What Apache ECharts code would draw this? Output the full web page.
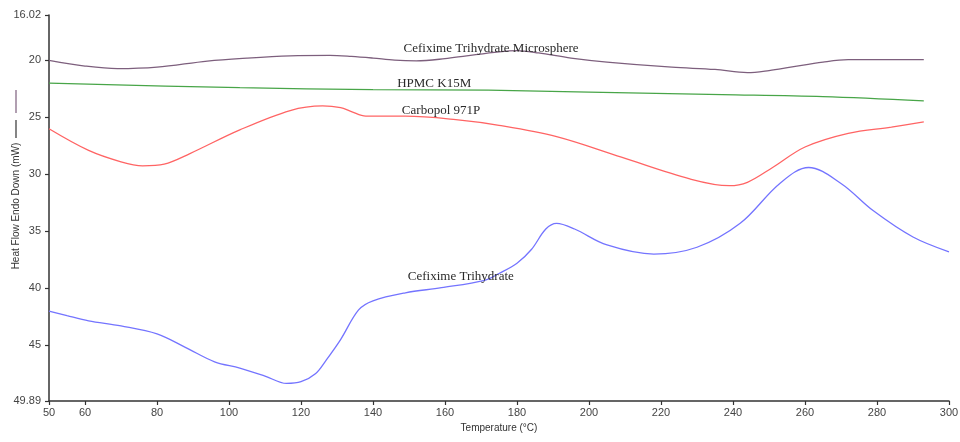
<!DOCTYPE html>
<html>
<head>
<meta charset="utf-8">
<title>DSC thermogram</title>
<script src="https://cdn.jsdelivr.net/npm/echarts@6/dist/echarts.min.js"></script>
<style>
  html, body { margin: 0; padding: 0; background: #fff; }
  #chart { width: 960px; height: 442px; }
</style>
</head>
<body>
<div id="chart"></div>
<script>
  // [temperature °C, heat flow mW]
  const microsphereData = [[50, 20.0], [60, 20.5], [69, 20.73], [80, 20.6], [94, 20.06], [105, 19.8], [117, 19.6],
    [128, 19.56], [134, 19.65], [140, 19.8], [146, 19.98], [152, 20.04], [160, 19.85], [166, 19.6], [175, 19.25],
    [180, 19.15], [186, 19.35], [195, 19.8], [205, 20.15], [223, 20.6], [235, 20.8], [244, 21.08], [250, 20.9],
    [256, 20.6], [265, 20.15], [272, 19.94], [293, 19.94]];
  const hpmcData = [[50, 22.0], [103, 22.4], [140, 22.57], [172, 22.62], [200, 22.78], [237, 23.0], [265, 23.18], [293, 23.55]];
  const carbopolData = [[50, 26.0], [61, 27.9], [70, 28.9], [76, 29.25], [82, 29.1], [89, 28.2], [103, 26.1], [117, 24.4],
    [126, 24.0], [131, 24.15], [134, 24.5], [138, 24.9], [149, 24.9], [163, 25.2], [175, 25.7], [191, 26.7], [209, 28.5],
    [228, 30.4], [239, 31.0], [244, 30.7], [251, 29.4], [260, 27.6], [272, 26.4], [284, 25.85], [293, 25.4]];
  const cefiximeData = [[50, 42.0], [55, 42.4], [61, 42.85], [70, 43.3], [80, 44.0], [88, 45.2], [96, 46.45], [103, 47.0],
    [110, 47.7], [116, 48.35], [120, 48.2], [124, 47.5], [127, 46.3], [131, 44.5], [136, 41.9], [140, 41.1], [149, 40.4],
    [159, 39.95], [171, 39.3], [175, 38.7], [180, 37.8], [184, 36.6], [188, 34.8], [191, 34.3], [196, 34.8], [205, 36.2],
    [218, 37.0], [230, 36.4], [242, 34.3], [253, 30.8], [261, 29.4], [270, 30.8], [279, 33.2], [290, 35.5], [300, 36.8]];

  const seriesNames = ['Cefixime Trihydrate Microsphere', 'HPMC K15M', 'Carbopol 971P', 'Cefixime Trihydrate'];
  // where each curve's name is written, in data units
  const labelAnchors = [[172.8, 18.97], [157, 22.04], [158.9, 24.39], [164.4, 38.95]];

  const xTicks = [50, 60, 80, 100, 120, 140, 160, 180, 200, 220, 240, 260, 280, 300];
  const yTicks = [16.02, 20, 25, 30, 35, 40, 45, 49.89];

  const colors = ['#7d5f7d', '#48a548', '#ff6464', '#7474ff'];
  const allData = [microsphereData, hpmcData, carbopolData, cefiximeData];

  let myChart = echarts.init(document.getElementById('chart'));

  const axisCommon = {
    axisLine: { lineStyle: { color: '#333', width: 1.5 } },
    axisTick: { length: 4, lineStyle: { color: '#333', width: 1.2 } },
    axisLabel: { color: '#444', fontSize: 11, fontFamily: 'Liberation Sans' },
    splitLine: { show: false }
  };

  myChart.setOption({
    animation: false,
    grid: { left: 49, right: 11, top: 15, bottom: 41, containLabel: false, outerBoundsMode: 'none' },
    xAxis: {
      type: 'value',
      min: 50,
      max: 300,
      name: 'Temperature (°C)',
      nameLocation: 'middle',
      nameGap: 22,
      nameTextStyle: { color: '#333', fontSize: 10, fontFamily: 'Liberation Sans' },
      axisLine: axisCommon.axisLine,
      axisTick: Object.assign({ customValues: xTicks }, axisCommon.axisTick),
      axisLabel: Object.assign({ customValues: xTicks, margin: 6 }, axisCommon.axisLabel),
      splitLine: axisCommon.splitLine
    },
    yAxis: {
      type: 'value',
      inverse: true,
      min: 16.02,
      max: 49.89,
      axisLine: axisCommon.axisLine,
      axisTick: Object.assign({ customValues: yTicks }, axisCommon.axisTick),
      axisLabel: Object.assign({ customValues: yTicks, margin: 8 }, axisCommon.axisLabel),
      splitLine: axisCommon.splitLine
    },
    graphic: [
      // y axis title, with the two trace swatches drawn above it
      {
        type: 'text', x: 16, y: 206, rotation: Math.PI / 2,
        style: {
          text: 'Heat Flow Endo Down (mW)', fill: '#333', fontSize: 10, fontFamily: 'Liberation Sans',
          align: 'center', verticalAlign: 'middle'
        }
      },
      { type: 'line', shape: { x1: 16, y1: 90, x2: 16, y2: 113 }, style: { stroke: '#7d5f7d', lineWidth: 1.2 } },
      { type: 'line', shape: { x1: 16, y1: 120, x2: 16, y2: 138 }, style: { stroke: '#333', lineWidth: 1.2 } }
    ],
    series: allData.map(function (d, i) {
      return {
        name: seriesNames[i],
        type: 'line',
        data: d,
        smooth: 0.35,
        showSymbol: false,
        lineStyle: { color: colors[i], width: 1.3 },
        markPoint: {
          symbol: 'circle',
          symbolSize: 0,
          label: {
            show: true,
            position: 'inside',
            formatter: seriesNames[i],
            color: '#2a2a2a',
            fontSize: 13,
            fontFamily: 'Liberation Serif'
          },
          data: [{ coord: labelAnchors[i] }]
        }
      };
    })
  });
</script>
</body>
</html>
